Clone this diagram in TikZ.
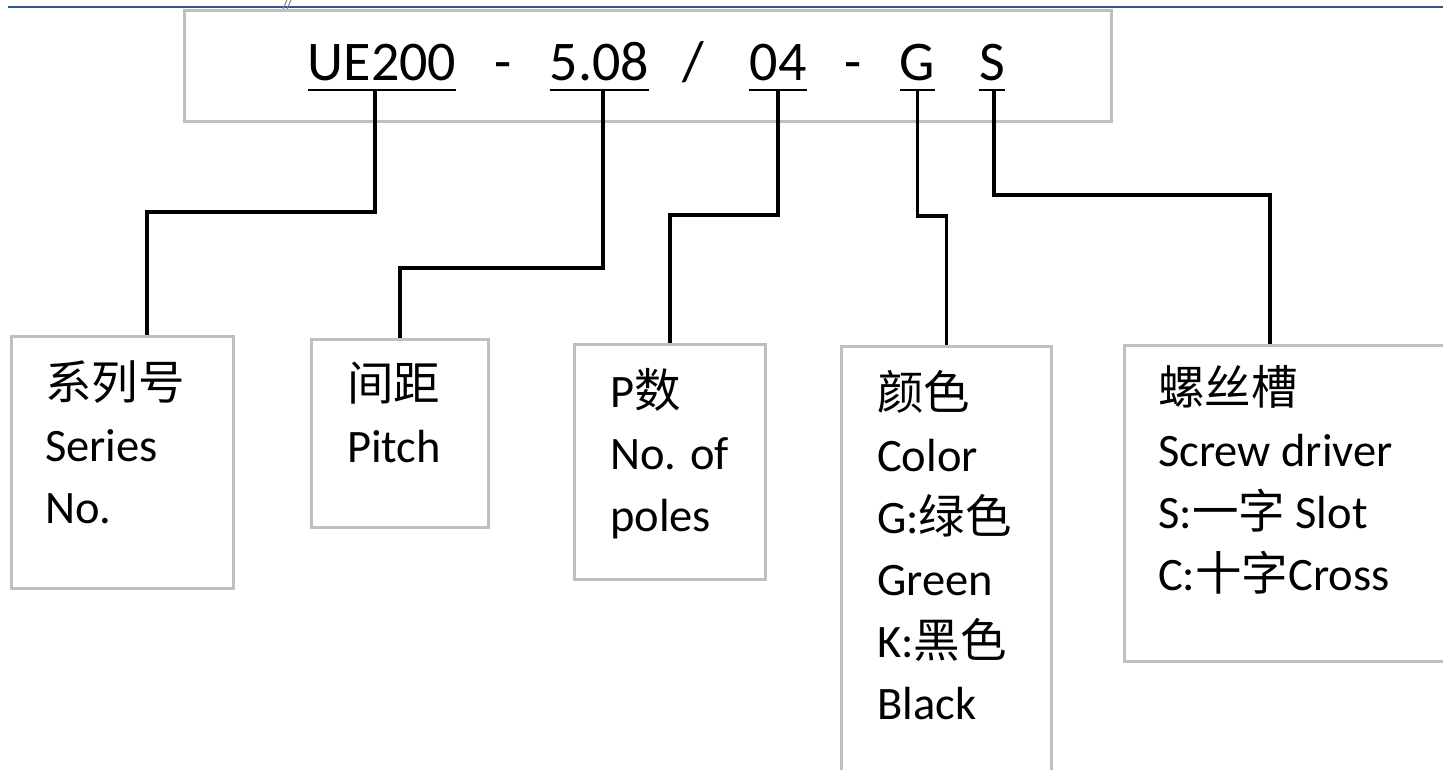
\documentclass[tikz,border=0pt]{standalone}
\usepackage{fontspec}
\setmainfont{Carlito}
\newfontfamily\cjk{Noto Sans CJK SC}
\usetikzlibrary{positioning}
\definecolor{framegray}{RGB}{191,191,191}
\definecolor{ruleblue}{RGB}{47,85,151}

\begin{document}
\begin{tikzpicture}[
        x=1pt, y=-1pt,
        code/.style={font=\fontsize{56}{66}\selectfont, anchor=base, inner sep=0pt},
        frame/.style={draw=framegray, line width=3pt, fill=white, anchor=north west, inner sep=0pt},
        info/.style={font=\fontsize{46.5}{62}\selectfont, align=left, anchor=north west, inner sep=0pt},
        wire/.style={line width=3.4pt, black},
        uline/.style={line width=2.8pt, black}
    ]
        \useasboundingbox (0,0) rectangle (1443,769);
        \clip (0,0) rectangle (1443,769);
        \fill[white] (0,0) rectangle (1443,769);

        % Header rule
        \draw[ruleblue, line width=1.5pt] (8,7) -- (1443,7);
        \draw[gray, line width=1pt] (283,9) -- (287,0) (287,9) -- (291,0);

        % Part number
        \node[frame, minimum width=927pt, minimum height=111pt] (head) at (183,9) {};
        \foreach \name/\x/\txt in {ue/382/UE200, pitch/599.5/5.08, poles/778/04, color/917.5/G, slot/992/S} {
            \node[code] (\name) at (\x,80) {\txt};
            \draw[uline] ([yshift=-10pt]\name.base west) -- ([yshift=-10pt]\name.base east);
        }
        \node[code] (dashA) at (503,80) {-};
        \node[code] (slash) at (693,80) {/};
        \node[code] (dashB) at (853,80) {-};

        % Legend boxes
        \node[frame, minimum width=222pt, minimum height=252pt] (seriesBox) at (10,335) {};
        \node[frame, minimum width=177pt, minimum height=188pt] (pitchBox) at (310,338) {};
        \node[frame, minimum width=191pt, minimum height=235pt] (polesBox) at (573,343) {};
        \node[frame, minimum width=210pt, minimum height=450pt] (colorBox) at (840,345) {};
        \node[frame, minimum width=340pt, minimum height=316pt] (slotBox) at (1123,344) {};

        \node[info] (seriesText) at ([xshift=35pt, yshift=-25pt]seriesBox.north west) {{\cjk 系列号}\\Series\\No.};
        \node[info] (pitchText) at ([xshift=37pt, yshift=-24pt]pitchBox.north west) {{\cjk 间距}\\Pitch};
        \node[info] (polesText) at ([xshift=37pt, yshift=-25pt]polesBox.north west) {P{\cjk 数}\\No. of\\poles};
        \node[info] (colorText) at ([xshift=37pt, yshift=-25pt]colorBox.north west) {{\cjk 颜色}\\Color\\G:{\cjk 绿色}\\Green\\K:{\cjk 黑色}\\Black};
        \node[info] (slotText) at ([xshift=35pt, yshift=-21pt]slotBox.north west) {{\cjk 螺丝槽}\\Screw driver\\S:{\cjk 一字} Slot\\C:{\cjk 十字}Cross};

        % Connections - code part to legend box
        \draw[wire] ([xshift=-7pt, yshift=-10pt]ue.base) -- ++(0,122) -| ([xshift=137pt]seriesBox.north west);
        \draw[wire] ([xshift=3.5pt, yshift=-10pt]pitch.base) -- ++(0,178) -| (pitchBox.north);
        \draw[wire] ([yshift=-10pt]poles.base) -- ++(0,125) -| (polesBox.north);
        \draw[wire] ([yshift=-10pt]color.base) -- ++(0,126) -| (colorBox.north);
        \draw[wire] ([xshift=2pt, yshift=-10pt]slot.base) -- ++(0,105) -| ([xshift=147pt]slotBox.north west);
    \end{tikzpicture}
\end{document}
